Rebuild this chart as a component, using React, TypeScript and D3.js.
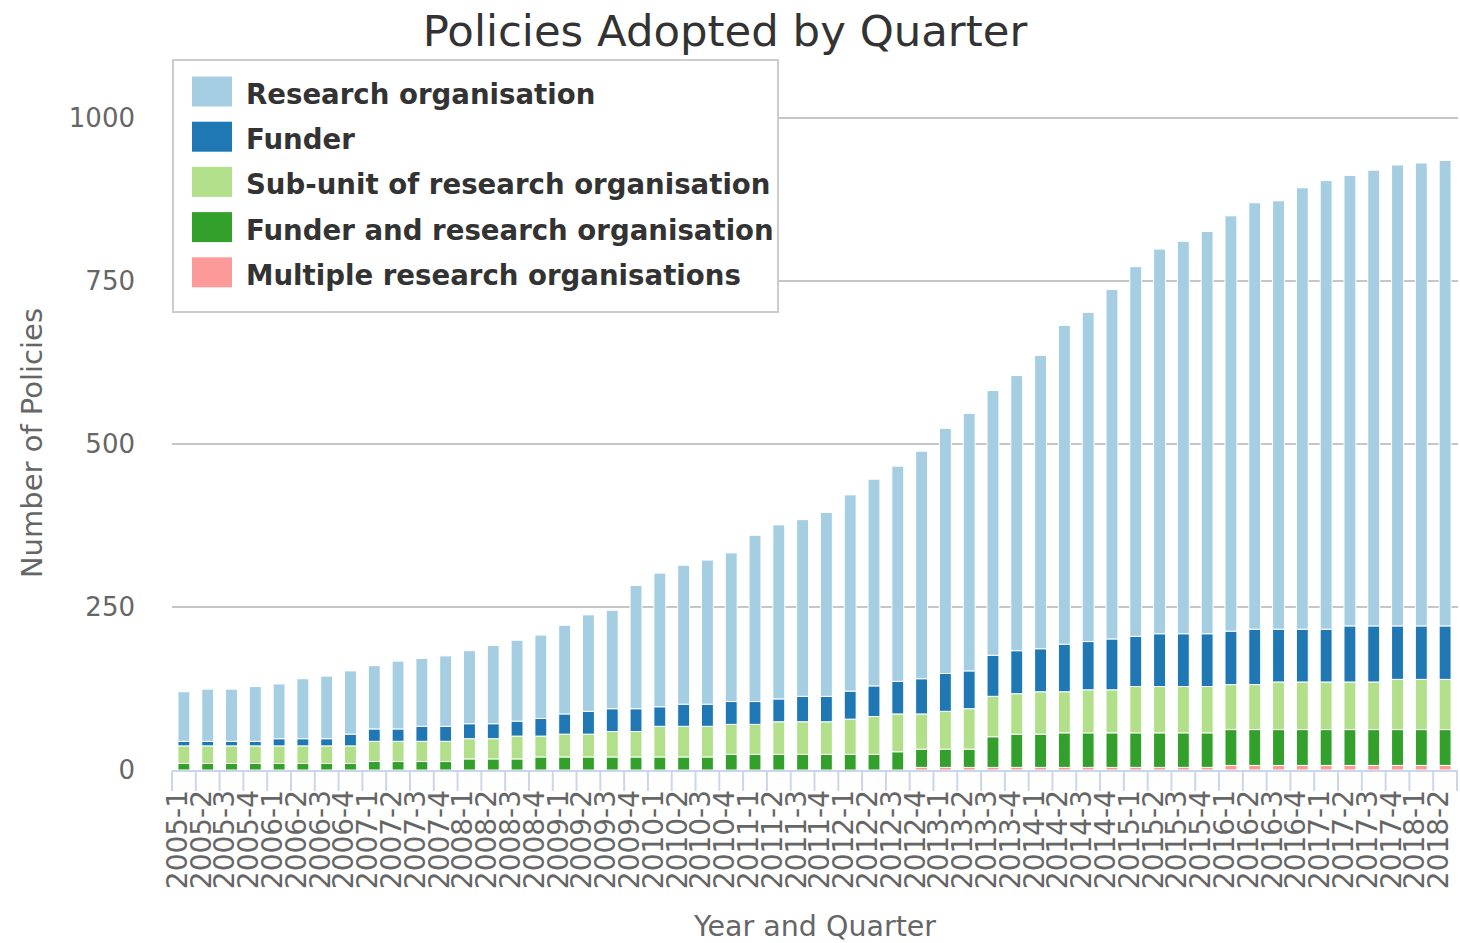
import React from "react";
import * as d3 from "d3";

const quarters = [
  "2005-1","2005-2","2005-3","2005-4","2006-1","2006-2","2006-3","2006-4",
  "2007-1","2007-2","2007-3","2007-4","2008-1","2008-2","2008-3","2008-4",
  "2009-1","2009-2","2009-3","2009-4","2010-1","2010-2","2010-3","2010-4",
  "2011-1","2011-2","2011-3","2011-4","2012-1","2012-2","2012-3","2012-4",
  "2013-1","2013-2","2013-3","2013-4","2014-1","2014-2","2014-3","2014-4",
  "2015-1","2015-2","2015-3","2015-4","2016-1","2016-2","2016-3","2016-4",
  "2017-1","2017-2","2017-3","2017-4","2018-1","2018-2",
];

const multipleOrgs = [
  0,0,0,0,0,0,0,0,0,0,0,0,0,0,0,0,0,0,0,0,0,0,0,0,0,0,0,0,0,0,0,
  4,4,4,4,4,4,4,4,4,4,4,4,4,
  7,7,7,7,7,7,7,7,7,7,
];
const funderAndOrg = [
  10,10,10,10,10,10,10,10,13,13,13,13,17,17,17,20,20,20,20,20,20,20,20,
  24,24,24,24,24,24,24,28,28,28,28,47,51,51,53,53,53,53,53,53,53,
  55,55,55,55,55,55,55,55,55,55,
];
const subUnit = [
  27,27,27,27,27,27,27,27,31,31,31,31,31,31,35,32,35,35,39,39,47,47,47,
  46,46,50,50,50,54,58,58,54,58,62,62,62,65,63,66,66,71,71,71,71,
  69,69,73,73,73,73,73,77,77,77,
];
const funder = [
  7,7,7,7,11,11,11,18,19,19,23,23,23,23,23,27,31,35,35,35,30,34,34,
  35,35,35,39,39,43,47,50,54,58,58,63,66,66,73,74,78,77,81,81,81,
  82,85,81,81,81,86,86,82,82,82,
];
const researchOrg = [
  76,80,80,84,84,92,96,97,97,104,104,108,112,120,124,128,136,148,151,189,205,213,221,
  228,255,267,271,282,301,317,330,349,376,395,406,422,450,489,505,536,567,590,602,617,
  637,654,657,677,688,691,699,707,710,714,
];

const seriesNames = [
  "Research organisation",
  "Funder",
  "Sub-unit of research organisation",
  "Funder and research organisation",
  "Multiple research organisations",
];
const seriesColors = ["#a6cee3", "#1f78b4", "#b2df8a", "#33a02c", "#fb9a99"];
const yTicks = [0, 250, 500, 750, 1000];

const FONT = "'DejaVu Sans', Verdana, sans-serif";

export default function App() {
  const W = 1460, H = 943;
  const left = 172, right = 1457, top = 118, bottom = 770;

  const keys = ["multiple", "fro", "sub", "funder", "ro"];
  const colorByKey: Record<string, string> = {
    ro: seriesColors[0], funder: seriesColors[1], sub: seriesColors[2], fro: seriesColors[3], multiple: seriesColors[4],
  };
  const rows = quarters.map((q, i) => ({
    q,
    multiple: multipleOrgs[i],
    fro: funderAndOrg[i],
    sub: subUnit[i],
    funder: funder[i],
    ro: researchOrg[i],
  }));
  const stacked = d3.stack<any>().keys(keys)(rows);

  const x = d3.scaleBand<string>().domain(quarters).range([left, right]).paddingInner(0).paddingOuter(0);
  const band = x.bandwidth();
  const cx = (q: string) => (x(q) as number) + band / 2;
  const bw = band * 0.5;
  const y = d3.scaleLinear().domain([0, 1000]).range([bottom, top]);

  const tickXs = quarters.map((q) => x(q) as number).concat([right]);

  return (
    <svg width={W} height={H} style={{ position: "absolute", left: 0, top: 0, background: "#fff" }} fontFamily={FONT}>
      <rect x={0} y={0} width={W} height={H} fill="#fff" />
      <text x={725} y={46} textAnchor="middle" fontSize={43.4} fill="#333">Policies Adopted by Quarter</text>

      {yTicks.filter((t) => t > 0).map((t) => (
        <line key={t} x1={left} x2={1458} y1={y(t)} y2={y(t)} stroke="#c6c6c6" strokeWidth={2} />
      ))}
      {yTicks.map((t) => (
        <text key={"yl" + t} x={135} y={y(t)} dy="0.35em" textAnchor="end" fontSize={26} fill="#666">{t}</text>
      ))}

      {stacked.map((s) => (
        <g key={s.key} fill={colorByKey[s.key]}>
          {s.map((d, i) => {
            const h = y(d[0]) - y(d[1]);
            if (h <= 0) return null;
            return (
              <rect key={i} x={cx(quarters[i]) - bw / 2} y={y(d[1])} width={bw} height={h} stroke="#fff" strokeWidth={1} />
            );
          })}
        </g>
      ))}

      <line x1={left} x2={1458} y1={771} y2={771} stroke="#ccd6eb" strokeWidth={2} />
      {tickXs.map((tx, i) => (
        <line key={"t" + i} x1={tx} x2={tx} y1={771} y2={791} stroke="#ccd6eb" strokeWidth={2} />
      ))}
      {quarters.map((q, i) => (
        <text key={"xl" + i} transform={`translate(${cx(q) + 3},790) rotate(-90)`} textAnchor="end" fontSize={28} fill="#666">{q}</text>
      ))}

      <text transform="translate(42,443) rotate(-90)" textAnchor="middle" fontSize={29} fill="#666">Number of Policies</text>
      <text x={815} y={936} textAnchor="middle" fontSize={28.5} fill="#666">Year and Quarter</text>

      <rect x={173} y={60} width={605} height={252} fill="#fff" stroke="#cccccc" strokeWidth={2} />
      {seriesNames.map((name, i) => (
        <g key={name}>
          <rect x={192} y={76.5 + i * 45.2} width={40} height={30} fill={seriesColors[i]} />
          <text x={246} y={104 + i * 45.2} fontSize={27.6} fontWeight="bold" fill="#333">{name}</text>
        </g>
      ))}
    </svg>
  );
}
